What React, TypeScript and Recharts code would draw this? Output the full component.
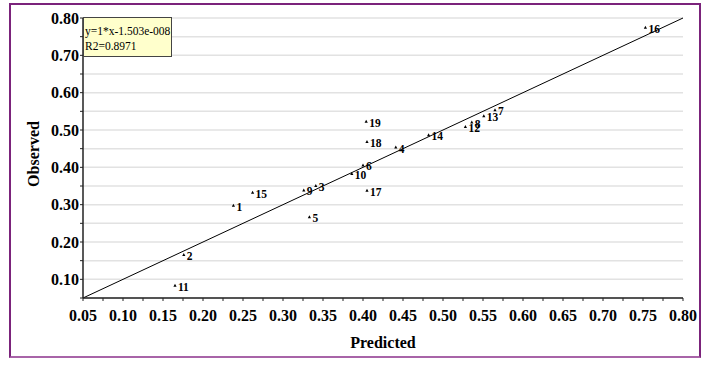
import React from "react";
import {
  ScatterChart,
  Scatter,
  XAxis,
  YAxis,
  CartesianGrid,
  ReferenceLine,
} from "recharts";

const ids = [1, 2, 3, 4, 5, 6, 7, 8, 9, 10, 11, 12, 13, 14, 15, 16, 17, 18, 19];
const predicted = [
  0.238, 0.176, 0.341, 0.441, 0.333, 0.4, 0.565, 0.536, 0.326, 0.386, 0.165,
  0.528, 0.551, 0.482, 0.262, 0.753, 0.405, 0.405, 0.404,
];
const observed = [
  0.297, 0.165, 0.35, 0.453, 0.266, 0.405, 0.553, 0.52, 0.338, 0.382, 0.083,
  0.508, 0.537, 0.486, 0.332, 0.774, 0.337, 0.468, 0.522,
];
const xTicks = [
  0.05, 0.075, 0.1, 0.125, 0.15, 0.175, 0.2, 0.225, 0.25, 0.275, 0.3, 0.325,
  0.35, 0.375, 0.4, 0.425, 0.45, 0.475, 0.5, 0.525, 0.55, 0.575, 0.6, 0.625,
  0.65, 0.675, 0.7, 0.725, 0.75, 0.775, 0.8,
];
const yTicks = [
  0.05, 0.1, 0.15, 0.2, 0.25, 0.3, 0.35, 0.4, 0.45, 0.5, 0.55, 0.6, 0.65, 0.7,
  0.75, 0.8,
];
const fitLine = [
  { x: 0.05, y: 0.05 },
  { x: 0.8, y: 0.8 },
];
const equationText = "y=1*x-1.503e-008";
const r2Text = "R2=0.8971";
const xTitle = "Predicted";
const yTitle = "Observed";

const data = ids.map((id, i) => ({ id, x: predicted[i], y: observed[i] }));

const FONT = '"Liberation Serif", "Times New Roman", serif';

const PointShape = (props: any) => {
  const { cx, cy, payload } = props;
  if (cx == null || cy == null) return null;
  return (
    <g>
      <path
        d={`M${cx},${cy - 2} L${cx + 1.6},${cy + 1} L${cx - 1.6},${cy + 1} Z`}
        fill="#000"
      />
      <text
        x={cx + 3}
        y={cy + 5}
        fontFamily={FONT}
        fontWeight="bold"
        fontSize={11.5}
        fill="#000"
      >
        {payload.id}
      </text>
    </g>
  );
};

export default function App() {
  return (
    <div style={{ position: "absolute", left: 0, top: 0, width: 708, height: 365, background: "#fff" }}>
      <div
        style={{
          position: "absolute",
          left: 9,
          top: 3,
          width: 692,
          height: 355,
          boxSizing: "border-box",
          border: "2px solid #7b237b",
          borderBottomColor: "#a864a8",
        }}
      />
      <div style={{ position: "absolute", left: 0, top: 0 }}>
        <ScatterChart
          width={708}
          height={365}
          margin={{ top: 18, right: 25, bottom: 37, left: 0 }}
        >
          <CartesianGrid
            vertical={false}
            stroke="#e2e2e2"
            strokeWidth={1.5}
            horizontalValues={yTicks}
          />
          <XAxis
            type="number"
            dataKey="x"
            domain={[0.05, 0.8]}
            ticks={xTicks}
            interval={0}
            allowDataOverflow
            height={30}
            tickSize={3}
            tickMargin={9}
            axisLine={{ stroke: "#222", strokeWidth: 1.5 }}
            tickLine={{ stroke: "#222" }}
            tickFormatter={(v: number) =>
              Math.round(v * 1000) % 50 === 0 ? v.toFixed(2) : ""
            }
            tick={{ fill: "#000", fontSize: 16, fontWeight: "bold", fontFamily: FONT }}
            label={(p: any) => {
              const vb = p.viewBox || { x: 83, width: 600, y: 298 };
              return (
                <text
                  x={vb.x + vb.width / 2}
                  y={348}
                  textAnchor="middle"
                  fontFamily={FONT}
                  fontWeight="bold"
                  fontSize={16}
                  fill="#000"
                >
                  {xTitle}
                </text>
              );
            }}
          />
          <YAxis
            type="number"
            dataKey="y"
            domain={[0.05, 0.8]}
            ticks={yTicks}
            interval={0}
            allowDataOverflow
            width={83}
            tickSize={3}
            tickMargin={1}
            axisLine={{ stroke: "#222", strokeWidth: 1.5 }}
            tickLine={{ stroke: "#222" }}
            tickFormatter={(v: number) =>
              Math.round(v * 100) % 10 === 0 ? v.toFixed(2) : ""
            }
            tick={{ fill: "#000", fontSize: 16, fontWeight: "bold", fontFamily: FONT }}
            label={() => (
              <text
                x={0}
                y={0}
                transform="translate(39,154) rotate(-90)"
                textAnchor="middle"
                fontFamily={FONT}
                fontWeight="bold"
                fontSize={16}
                fill="#000"
              >
                {yTitle}
              </text>
            )}
          />
          <ReferenceLine
            segment={fitLine}
            stroke="#000"
            strokeWidth={1}
            ifOverflow="visible"
          />
          <Scatter
            data={data}
            shape={PointShape}
            isAnimationActive={false}
          />
        </ScatterChart>
      </div>
      <div
        style={{
          position: "absolute",
          left: 83,
          top: 17,
          width: 89,
          height: 40,
          boxSizing: "border-box",
          background: "#ffffcc",
          border: "1px solid #444",
          fontFamily: FONT,
          fontSize: 11.5,
          lineHeight: "15px",
          paddingTop: 6,
          paddingLeft: 1,
          whiteSpace: "nowrap",
          color: "#000",
        }}
      >
        <div>{equationText}</div>
        <div>{r2Text}</div>
      </div>
    </div>
  );
}
